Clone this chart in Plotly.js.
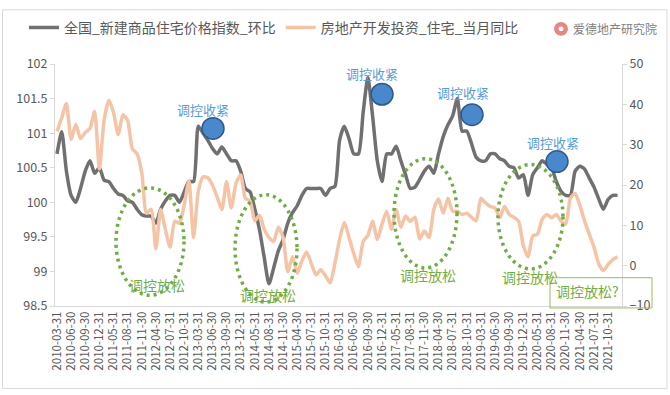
<!DOCTYPE html>
<html>
<head>
<meta charset="utf-8">
<script src="https://cdn.plot.ly/plotly-3.0.1.min.js"></script>
<style>html,body{margin:0;padding:0;background:#fff;}#chart{width:670px;height:395px;}</style>
</head>
<body>
<div id="chart"></div>
<script>
// ---- data ----
const categories = [
"2010-03-31","2010-04-30","2010-05-31","2010-06-30","2010-07-31","2010-08-31","2010-09-30","2010-10-31","2010-11-30","2010-12-31",
"2011-03-31","2011-04-30","2011-05-31","2011-06-30","2011-07-31","2011-08-31","2011-09-30","2011-10-31","2011-11-30","2011-12-31",
"2012-03-31","2012-04-30","2012-05-31","2012-06-30","2012-07-31","2012-08-31","2012-09-30","2012-10-31","2012-11-30","2012-12-31",
"2013-03-31","2013-04-30","2013-05-31","2013-06-30","2013-07-31","2013-08-31","2013-09-30","2013-10-31","2013-11-30","2013-12-31",
"2014-03-31","2014-04-30","2014-05-31","2014-06-30","2014-07-31","2014-08-31","2014-09-30","2014-10-31","2014-11-30","2014-12-31",
"2015-03-31","2015-04-30","2015-05-31","2015-06-30","2015-07-31","2015-08-31","2015-09-30","2015-10-31","2015-11-30","2015-12-31",
"2016-03-31","2016-04-30","2016-05-31","2016-06-30","2016-07-31","2016-08-31","2016-09-30","2016-10-31","2016-11-30","2016-12-31",
"2017-03-31","2017-04-30","2017-05-31","2017-06-30","2017-07-31","2017-08-31","2017-09-30","2017-10-31","2017-11-30","2017-12-31",
"2018-03-31","2018-04-30","2018-05-31","2018-06-30","2018-07-31","2018-08-31","2018-09-30","2018-10-31","2018-11-30","2018-12-31",
"2019-03-31","2019-04-30","2019-05-31","2019-06-30","2019-07-31","2019-08-31","2019-09-30","2019-10-31","2019-11-30","2019-12-31",
"2020-03-31","2020-04-30","2020-05-31","2020-06-30","2020-07-31","2020-08-31","2020-09-30","2020-10-31","2020-11-30","2020-12-31",
"2021-03-31","2021-04-30","2021-05-31","2021-06-30","2021-07-31","2021-08-31","2021-09-30","2021-10-31","2021-11-30","2021-12-31"
];

const tickLabels = [
"2010-03-31","2010-06-30","2010-09-30","2010-12-31","2011-05-31","2011-08-31","2011-11-30","2012-04-30","2012-07-31","2012-10-31",
"2013-03-31","2013-06-30","2013-09-30","2013-12-31","2014-05-31","2014-08-31","2014-11-30","2015-04-30","2015-07-31","2015-10-31",
"2016-03-31","2016-06-30","2016-09-30","2016-12-31","2017-05-31","2017-08-31","2017-11-30","2018-04-30","2018-07-31","2018-10-31",
"2019-03-31","2019-06-30","2019-09-30","2019-12-31","2020-05-31","2020-08-31","2020-11-30","2021-04-30","2021-07-31","2021-10-31"
];

const seriesNames = ["全国_新建商品住宅价格指数_环比", "房地产开发投资_住宅_当月同比"];

const priceIndexMoM = [
100.70,101.02,100.45,100.10,100.00,100.20,100.45,100.60,100.42,100.50,
100.32,100.30,100.20,100.12,100.10,100.02,100.00,99.90,99.82,99.80,
99.80,99.70,99.90,100.02,100.10,100.10,100.00,100.15,100.30,100.30,
101.10,101.00,100.90,100.78,100.70,100.80,100.70,100.60,100.60,100.45,
100.20,100.15,99.90,99.60,99.20,98.82,99.05,99.30,99.46,99.70,
99.85,99.95,100.10,100.20,100.20,100.20,100.20,100.10,100.20,100.23,
100.90,101.10,100.92,100.70,100.70,101.30,101.80,101.25,100.60,100.30,
100.70,100.70,100.81,100.60,100.40,100.20,100.22,100.33,100.45,100.52,
100.42,100.70,100.95,101.12,101.25,101.50,101.03,101.03,100.85,100.65,
100.60,100.60,100.70,100.70,100.63,100.60,100.52,100.50,100.35,100.40,
100.10,100.40,100.50,100.60,100.55,100.50,100.30,100.16,100.10,100.10,
100.45,100.52,100.48,100.35,100.22,100.05,99.90,100.04,100.10,100.10
];

const investYoY = [
33.3,36.6,40.2,31.3,35.0,31.5,33.0,34.0,38.2,24.0,
36.0,41.0,38.0,32.5,37.4,36.0,29.0,27.7,23.0,13.0,
14.0,4.2,13.9,9.0,4.6,11.0,10.5,15.0,21.0,7.0,
18.4,22.0,21.8,20.0,17.0,13.9,20.8,14.3,20.4,22.5,
16.7,16.0,11.1,12.5,9.0,7.0,6.0,9.5,7.0,-1.5,
2.2,-1.9,1.2,3.4,0.5,-2.3,-1.0,-2.5,-4.3,0.6,
6.5,10.7,7.0,3.0,-0.2,6.0,7.5,11.0,6.5,10.3,
13.5,9.0,13.9,9.5,12.3,11.0,12.0,6.6,8.6,7.0,
14.0,16.5,13.0,16.7,13.5,13.5,12.7,13.0,12.0,11.1,
16.7,15.5,14.7,14.3,11.9,14.7,12.7,12.0,11.0,5.0,
2.2,7.4,7.8,11.5,12.7,11.9,12.7,11.1,10.3,16.7,
17.9,15.0,11.1,7.8,4.6,0.5,-1.2,0.3,1.5,2.2
];

const tightenLabel = "调控收紧";
const easeLabel = "调控放松";
const easeQLabel = "调控放松?";
const logoText = "爱德地产研究院";

// ---- layout helpers (pixel -> paper) ----
const W = 670, H = 395, ML = 55, MR = 48, MT = 58, MB = 89;
const PW = W - ML - MR, PH = H - MT - MB;
const px = x => (x - ML) / PW;
const py = y => (H - MB - y) / PH;

const FONT = "'Noto Sans CJK SC', 'Noto Sans', sans-serif";
const GRAY = '#595959';
const AXIS = '#d9d9d9';

const traces = [
  {x: categories, y: priceIndexMoM, name: seriesNames[0], type: 'scatter', mode: 'lines',
   line: {color: '#707070', width: 3.5, shape: 'spline', smoothing: 0.6}, yaxis: 'y'},
  {x: categories, y: investYoY, name: seriesNames[1], type: 'scatter', mode: 'lines',
   line: {color: '#f5c4a6', width: 3.5, shape: 'spline', smoothing: 0.6}, yaxis: 'y2'}
];

const shapes = [];
const annotations = [];

// outer border
shapes.push({type: 'rect', xref: 'paper', yref: 'paper', x0: px(2.5), x1: px(667), y0: py(2.5), y1: py(390.5),
  line: {color: '#d9d9d9', width: 1}, fillcolor: 'rgba(0,0,0,0)'});

// tighten circles + labels (pixel centers)
const circ = [[213, 124, 203, 105], [382, 89, 372, 68], [472, 110, 463, 87], [557, 158, 553, 138]];
circ.forEach(c => {
  const r = 11;
  shapes.push({type: 'circle', xref: 'paper', yref: 'paper', x0: px(c[0] - r), x1: px(c[0] + r),
    y0: py(c[1] + r), y1: py(c[1] - r), fillcolor: '#4a88cc', line: {color: '#2f5a8e', width: 1.5}, layer: 'above'});
  annotations.push({xref: 'paper', yref: 'paper', x: px(c[2]), y: py(c[3]), text: tightenLabel, showarrow: false,
    xanchor: 'center', yanchor: 'middle', font: {family: FONT, size: 13, color: '#5b9bd5'}});
});

// ease ellipses + labels
const ell = [[116, 184, 185, 295, 157, 284], [235, 297, 192, 302, 268, 295], [394, 457, 155, 267, 428, 274], [498, 563, 161, 268, 530, 276]];
ell.forEach(e => {
  shapes.push({type: 'circle', xref: 'paper', yref: 'paper', x0: px(e[0]), x1: px(e[1]), y0: py(e[3]), y1: py(e[2]),
    line: {color: '#70ad47', width: 3.5, dash: '3px,4px'}, fillcolor: 'rgba(0,0,0,0)', layer: 'above'});
  annotations.push({xref: 'paper', yref: 'paper', x: px(e[4]), y: py(e[5]), text: easeLabel, showarrow: false,
    xanchor: 'center', yanchor: 'middle', font: {family: FONT, size: 14, color: '#70ad47'}});
});

// question box
shapes.push({type: 'rect', xref: 'paper', yref: 'paper', x0: px(550), x1: px(652), y0: py(308), y1: py(277),
  line: {color: '#9bbb59', width: 1}, fillcolor: 'rgba(0,0,0,0)', layer: 'above'});
annotations.push({xref: 'paper', yref: 'paper', x: px(587), y: py(291), text: easeQLabel, showarrow: false,
  xanchor: 'center', yanchor: 'middle', font: {family: FONT, size: 14, color: '#70ad47'}});

// logo
shapes.push({type: 'circle', xref: 'paper', yref: 'paper', x0: px(554), x1: px(568), y0: py(29), y1: py(15),
  fillcolor: '#e88585', line: {width: 0}});
shapes.push({type: 'circle', xref: 'paper', yref: 'paper', x0: px(558.5), x1: px(563.5), y0: py(24.5), y1: py(19.5),
  fillcolor: '#ffffff', line: {width: 0}});
annotations.push({xref: 'paper', yref: 'paper', x: px(571), y: py(22), text: logoText, showarrow: false,
  xanchor: 'left', yanchor: 'middle', font: {family: FONT, size: 12, color: '#808080'}});

const layout = {
  width: W, height: H,
  margin: {l: ML, r: MR, t: MT, b: MB, pad: 0},
  paper_bgcolor: '#ffffff', plot_bgcolor: '#ffffff',
  font: {family: FONT, color: GRAY},
  showlegend: true,
  legend: {orientation: 'h', x: px(24), y: py(21), xanchor: 'left', yanchor: 'middle',
    font: {family: FONT, size: 14, color: GRAY}, bgcolor: 'rgba(0,0,0,0)', traceorder: 'normal'},
  xaxis: {type: 'category', range: [-0.42, 119.95], tickmode: 'array', tickvals: tickLabels, ticktext: tickLabels,
    tickangle: -90, tickfont: {family: FONT, size: 11.5, color: GRAY}, showgrid: false, zeroline: false,
    showline: true, linecolor: AXIS, linewidth: 1, ticks: '', fixedrange: true},
  yaxis: {range: [98.5, 102], dtick: 0.5, tick0: 98.5, showgrid: false, zeroline: false, showline: true,
    linecolor: AXIS, ticks: 'outside', ticklen: 4, tickcolor: AXIS, tickfont: {family: FONT, size: 12.5, color: GRAY}},
  yaxis2: {range: [-10, 50], dtick: 10, overlaying: 'y', side: 'right', showgrid: false, zeroline: false, showline: true,
    linecolor: AXIS, ticks: 'outside', ticklen: 4, tickcolor: AXIS, tickfont: {family: FONT, size: 12.5, color: GRAY}},
  shapes: shapes,
  annotations: annotations
};

Plotly.newPlot('chart', traces, layout, {displayModeBar: false, staticPlot: true});
</script>
</body>
</html>
